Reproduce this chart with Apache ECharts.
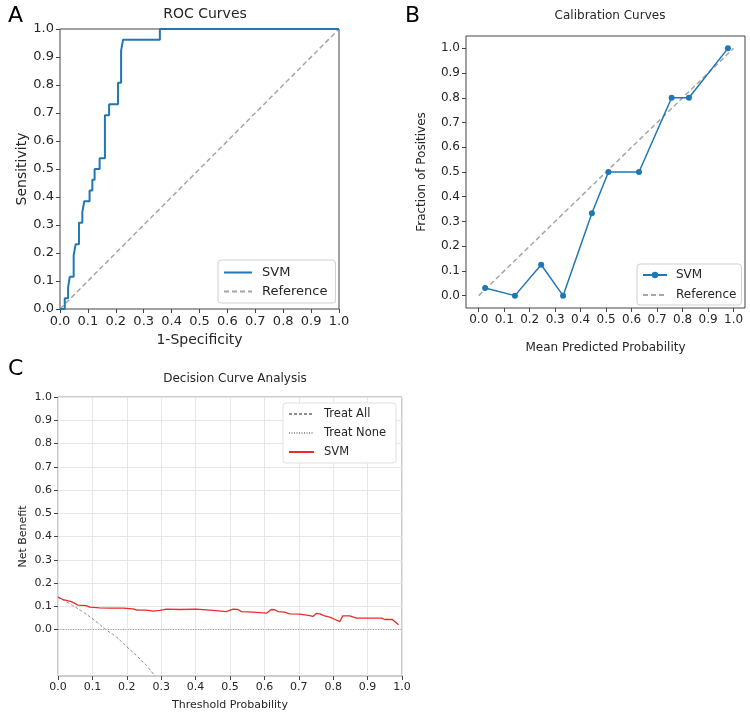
<!DOCTYPE html>
<html>
<head>
<meta charset="utf-8">
<title>ROC / Calibration / DCA</title>
<script src="https://cdn.jsdelivr.net/npm/echarts@6.0.0/dist/echarts.min.js"></script>
<style>
	html, body { margin: 0; padding: 0; background: #fff; }
	#main { width: 750px; height: 716px; }
</style>
</head>
<body>
<div id="main"></div>
<script>
// ROC (step corners)
var rocFpr = [0, 0.017, 0.017, 0.029, 0.029, 0.035, 0.035, 0.049, 0.049, 0.056, 0.056, 0.068, 0.068, 0.08, 0.08, 0.087, 0.087, 0.106, 0.106, 0.116, 0.116, 0.124, 0.124, 0.142, 0.142, 0.161, 0.161, 0.176, 0.176, 0.208, 0.208, 0.219, 0.219, 0.226, 0.226, 0.358, 0.358, 1.0];
var rocTpr = [0, 0, 0.038, 0.038, 0.077, 0.077, 0.115, 0.115, 0.192, 0.192, 0.231, 0.231, 0.308, 0.308, 0.346, 0.346, 0.385, 0.385, 0.423, 0.423, 0.462, 0.462, 0.5, 0.5, 0.538, 0.538, 0.692, 0.692, 0.731, 0.731, 0.808, 0.808, 0.923, 0.923, 0.962, 0.962, 1.0, 1.0];
var refX = [0, 1];
var refY = [0, 1];

// calibration
var calPred = [0.025, 0.142, 0.245, 0.331, 0.444, 0.509, 0.629, 0.757, 0.825, 0.978];
var calFrac = [0.031, 0, 0.125, 0, 0.333, 0.5, 0.5, 0.8, 0.8, 1.0];

// decision curve
var dcaAllX = [0, 0.035, 0.073, 0.11, 0.139, 0.17, 0.199, 0.23, 0.26, 0.281];
var dcaAllY = [0.139, 0.11, 0.075, 0.035, 0, -0.033, -0.073, -0.115, -0.16, -0.2];
var dcaNoneX = [0, 1];
var dcaNoneY = [0, 0];
var dcaSvmX = [0, 0.015, 0.039, 0.058, 0.082, 0.092, 0.121, 0.15, 0.189, 0.218, 0.23, 0.257, 0.276, 0.296, 0.315, 0.354, 0.402, 0.45, 0.489, 0.509, 0.523, 0.533, 0.567, 0.606, 0.61, 0.62, 0.63, 0.64, 0.659, 0.673, 0.703, 0.732, 0.741, 0.751, 0.761, 0.775, 0.79, 0.804, 0.819, 0.828, 0.848, 0.867, 0.896, 0.94, 0.95, 0.972, 0.99];
var dcaSvmY = [0.139, 0.128, 0.12, 0.105, 0.103, 0.096, 0.093, 0.092, 0.092, 0.089, 0.083, 0.083, 0.079, 0.082, 0.088, 0.086, 0.088, 0.082, 0.077, 0.088, 0.086, 0.077, 0.075, 0.07, 0.069, 0.086, 0.085, 0.077, 0.075, 0.067, 0.066, 0.06, 0.056, 0.069, 0.067, 0.059, 0.053, 0.044, 0.034, 0.059, 0.059, 0.049, 0.049, 0.049, 0.043, 0.043, 0.02];

var tickValues = [0, 0.1, 0.2, 0.3, 0.4, 0.5, 0.6, 0.7, 0.8, 0.9, 1.0];

var labelText = {
	rocSvm: 'SVM', rocRef: 'Reference',
	calSvm: 'SVM', calRef: 'Reference',
	dcaAll: 'Treat All', dcaNone: 'Treat None', dcaSvm: 'SVM'
};

function pairs(xs, ys) {
	var out = [];
	for (var i = 0; i < xs.length; i++) {
		out.push([xs[i], ys[i]]);
	}
	return out;
}

var font = 'DejaVu Sans';
var ink = '#262626';
var clear = 'rgba(0,0,0,0)';

function fmt(v) {
	return v < -1e-9 ? '' : (Math.round(v * 10) / 10).toFixed(1);
}

function valueAxis(gridIndex, opts) {
	var ax = {
		type: 'value',
		gridIndex: gridIndex,
		min: opts.min,
		max: opts.max,
		name: opts.name,
		nameLocation: 'middle',
		nameGap: opts.nameGap,
		nameTextStyle: { fontFamily: font, fontSize: opts.nameSize, color: ink },
		axisLine: { show: false, onZero: false },
		axisTick: { show: true, length: 4, lineStyle: { color: '#444' } },
		axisLabel: { fontFamily: font, fontSize: opts.labelSize, color: ink, margin: 6, formatter: fmt },
		splitLine: { show: !!opts.grid, lineStyle: { color: '#e6e6e6', width: 1 } }
	};
	if (opts.custom) {
		ax.axisTick.customValues = tickValues;
		ax.axisLabel.customValues = tickValues;
	} else {
		ax.interval = 0.1;
	}
	return ax;
}

// plain line: keep a (transparent) symbol so the legend shows only the line
function lineSeries(name, gi, xs, ys, color, width, type, z) {
	return {
		name: name, type: 'line', xAxisIndex: gi, yAxisIndex: gi,
		data: pairs(xs, ys), symbol: 'circle', showSymbol: false,
		lineStyle: { color: color, width: width, type: type || 'solid' },
		itemStyle: { color: clear, borderColor: clear },
		emphasis: { disabled: true },
		z: z
	};
}

var chart = echarts.init(document.getElementById('main'));

var option = {
	animation: false,
	backgroundColor: '#fff',
	title: [
		{ text: 'A', left: 3, top: 0, textStyle: { fontFamily: font, fontSize: 22, fontWeight: 'normal', color: '#000' } },
		{ text: 'ROC Curves', left: 200, top: 2, textAlign: 'center', textStyle: { fontFamily: font, fontSize: 14, fontWeight: 'normal', color: ink } },
		{ text: 'B', left: 400, top: 0, textStyle: { fontFamily: font, fontSize: 22, fontWeight: 'normal', color: '#000' } },
		{ text: 'Calibration Curves', left: 605, top: 5, textAlign: 'center', textStyle: { fontFamily: font, fontSize: 12, fontWeight: 'normal', color: ink } },
		{ text: 'C', left: 3, top: 353, textStyle: { fontFamily: font, fontSize: 22, fontWeight: 'normal', color: '#000' } },
		{ text: 'Decision Curve Analysis', left: 230, top: 368, textAlign: 'center', textStyle: { fontFamily: font, fontSize: 12, fontWeight: 'normal', color: ink } }
	],
	grid: [
		{ left: 60, top: 29, width: 279, height: 280, show: true, borderColor: '#444', borderWidth: 1, backgroundColor: '#fff' },
		{ left: 466, top: 36, width: 279, height: 272, show: true, borderColor: '#444', borderWidth: 1, backgroundColor: '#fff' },
		{ left: 58, top: 397, width: 344, height: 279, show: true, borderColor: '#999', borderWidth: 1, backgroundColor: '#fff' }
	],
	xAxis: [
		valueAxis(0, { min: 0, max: 1, name: '1-Specificity', nameGap: 24, nameSize: 14, labelSize: 13 }),
		valueAxis(1, { min: -0.05, max: 1.045, name: 'Mean Predicted Probability', nameGap: 34, nameSize: 12, labelSize: 12, custom: true }),
		valueAxis(2, { min: 0, max: 1, name: 'Threshold Probability', nameGap: 24, nameSize: 11, labelSize: 11, grid: true })
	],
	yAxis: [
		valueAxis(0, { min: 0, max: 1, name: 'Sensitivity', nameGap: 31, nameSize: 14, labelSize: 13 }),
		valueAxis(1, { min: -0.05, max: 1.05, name: 'Fraction of Positives', nameGap: 38, nameSize: 12, labelSize: 12, custom: true }),
		valueAxis(2, { min: -0.2, max: 1, name: 'Net Benefit', nameGap: 29, nameSize: 11, labelSize: 11, grid: true, custom: true })
	],
	legend: [
		{
			data: ['rocSvm', 'rocRef'], orient: 'vertical', left: 218, top: 260,
			itemWidth: 28, itemHeight: 10, itemGap: 6, padding: [6, 8, 5, 5],
			backgroundColor: '#fff', borderColor: '#d0d0d0', borderWidth: 1, borderRadius: 3,
			formatter: function(n) { return labelText[n]; },
			textStyle: { fontFamily: font, fontSize: 13, color: ink, padding: [0, 0, 0, 5] }
		},
		{
			data: ['calSvm', 'calRef'], orient: 'vertical', left: 637, top: 264,
			itemWidth: 24, itemHeight: 8, itemGap: 8, padding: [5, 5, 4, 5],
			backgroundColor: '#fff', borderColor: '#d0d0d0', borderWidth: 1, borderRadius: 3,
			formatter: function(n) { return labelText[n]; },
			textStyle: { fontFamily: font, fontSize: 12, color: ink, padding: [0, 0, 0, 4] }
		},
		{
			data: ['dcaAll', 'dcaNone', 'dcaSvm'], orient: 'vertical', left: 283, top: 403,
			itemWidth: 25, itemHeight: 10, itemGap: 7, padding: [5, 10, 5, 5],
			backgroundColor: '#fff', borderColor: '#e0e0e0', borderWidth: 1, borderRadius: 3,
			formatter: function(n) { return labelText[n]; },
			textStyle: { fontFamily: font, fontSize: 11.5, color: ink, padding: [0, 0, 0, 5] }
		}
	],
	series: [
		lineSeries('rocSvm', 0, rocFpr, rocTpr, '#1f77b4', 2, 'solid', 3),
		lineSeries('rocRef', 0, refX, refY, '#a6a6a6', 1.5, [5, 3], 2),
		{
			name: 'calSvm', type: 'line', xAxisIndex: 1, yAxisIndex: 1,
			data: pairs(calPred, calFrac), symbol: 'circle', symbolSize: 6,
			lineStyle: { color: '#1f77b4', width: 1.5 }, itemStyle: { color: '#1f77b4' }, z: 3
		},
		lineSeries('calRef', 1, refX, refY, '#a6a6a6', 1.5, [5, 3], 2),
		(function() {
			var s = lineSeries('dcaAll', 2, dcaAllX, dcaAllY, '#8c8c8c', 1, [3, 2], 2);
			s.smooth = true;
			return s;
		})(),
		lineSeries('dcaNone', 2, dcaNoneX, dcaNoneY, '#9a9a9a', 1, [1, 1.5], 2),
		lineSeries('dcaSvm', 2, dcaSvmX, dcaSvmY, '#ee2a2a', 1.3, 'solid', 3)
	]
};

chart.setOption(option);
</script>
</body>
</html>
